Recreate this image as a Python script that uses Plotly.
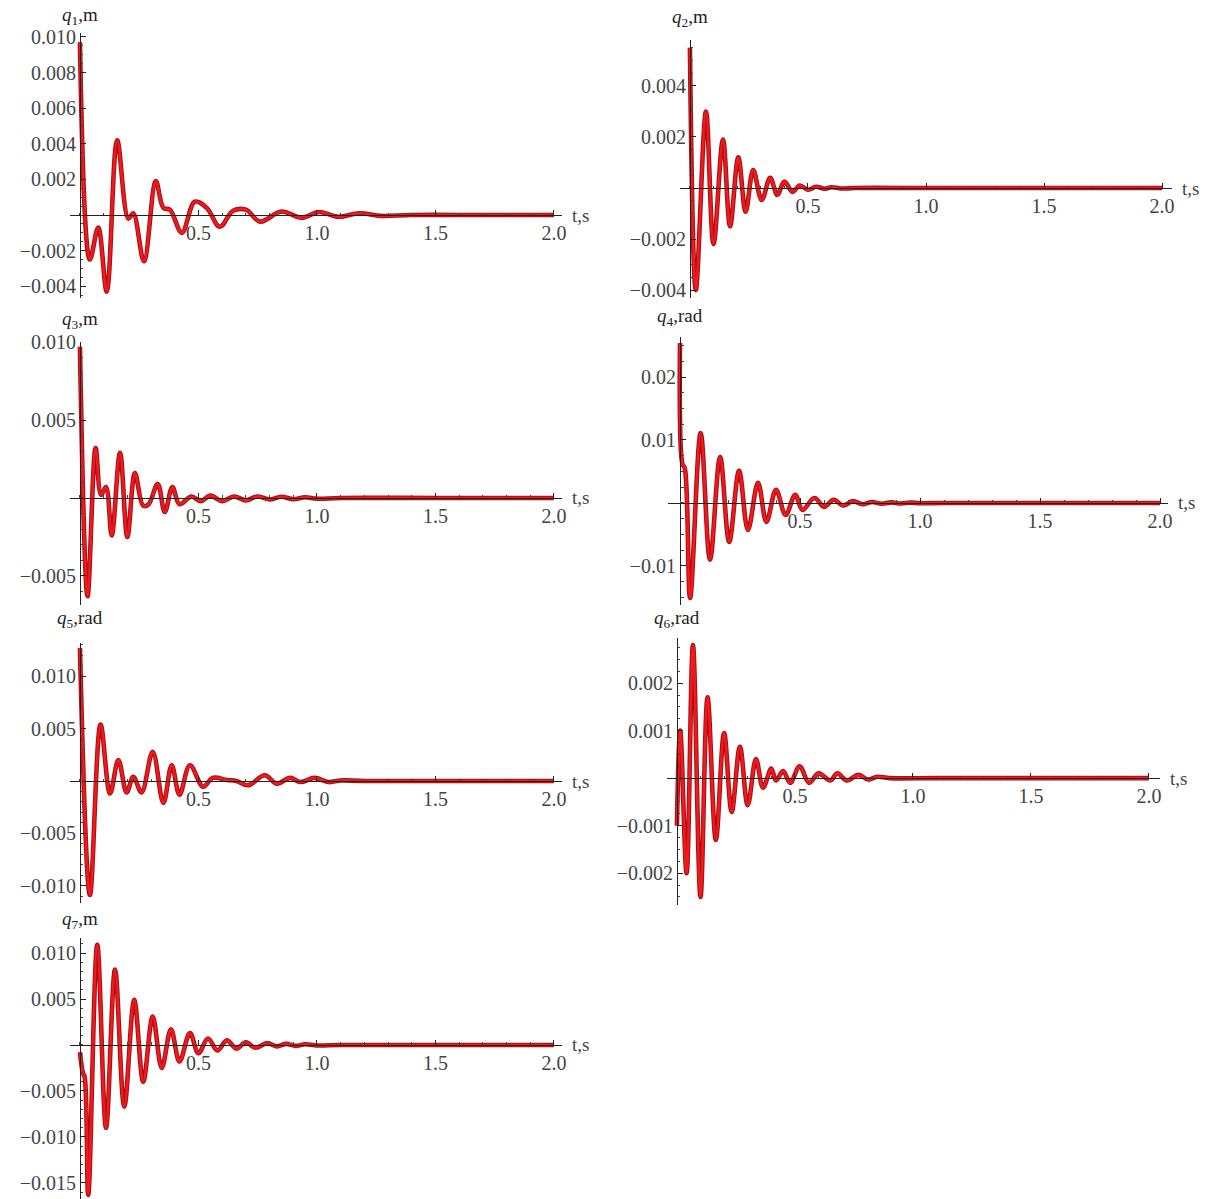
import plotly.graph_objects as go

W, H = 1215, 1199

# ---------------- data ----------------
t1 = [0, 0.042, 0.077, 0.113, 0.157, 0.204, 0.225, 0.27, 0.32, 0.352, 0.38, 0.43, 0.485, 0.535, 0.59,
      0.646, 0.70, 0.76, 0.85, 0.935, 1.01, 1.09, 1.18, 1.27, 1.4, 1.7, 2.0]
q1 = [0.0097, -0.0025, -0.0007, -0.0043, 0.0042, -0.0002, 0.0001, -0.0026, 0.0019, 0.0004, 0.0003, -0.0010,
      0.00075, 0.0004, -0.00066, 0.00024, 0.0003, -0.00037, 0.0002, -0.00015, 0.00017, -0.0001, 0.0001,
      -0.00005, 0, 0, 0]

t2 = [0, 0.025, 0.068, 0.10, 0.14, 0.17, 0.205, 0.236, 0.268, 0.304, 0.34, 0.37, 0.40, 0.435, 0.465,
      0.50, 0.535, 0.57, 0.60, 0.64, 0.70, 1.0, 1.5, 2.0]
q2 = [0.0055, -0.0040, 0.0030, -0.0022, 0.0019, -0.0015, 0.0012, -0.00093, 0.0007, -0.00047, 0.0004,
      -0.00027, 0.00025, -0.00015, 0.0001, -0.00007, 0.00005, -0.00003, 0.00003, -0.00002, 0, 0, 0, 0]

t3 = [0, 0.032, 0.066, 0.089, 0.11, 0.134, 0.169, 0.20, 0.232, 0.267, 0.29, 0.328, 0.358, 0.39, 0.42,
      0.47, 0.51, 0.55, 0.60, 0.65, 0.70, 0.75, 0.80, 0.85, 0.90, 0.95, 1.0, 1.1, 1.5, 2.0]
q3 = [0.0097, -0.0063, 0.0032, 0.0002, 0.0007, -0.0024, 0.0029, -0.0025, 0.0016, -0.0005, -0.0004,
      0.0009, -0.0009, 0.0007, -0.0004, 0.0001, -0.0002, 0.00015, -0.0002, 0.0001, -0.00015, 0.0001,
      -0.0001, 0.00008, -0.00008, 0.00005, -0.00005, 0, 0, 0]

t4 = [0, 0.01, 0.02, 0.042, 0.086, 0.125, 0.167, 0.205, 0.246, 0.283, 0.325, 0.36, 0.40, 0.44, 0.48,
      0.51, 0.56, 0.60, 0.64, 0.68, 0.72, 0.76, 0.80, 0.84, 0.88, 0.92, 0.96, 1.0, 1.1, 1.5, 2.0]
q4 = [0.0254, 0.0062, 0.0055, -0.0151, 0.0111, -0.0090, 0.0073, -0.0062, 0.0051, -0.0043, 0.0032,
      -0.0030, 0.0021, -0.0019, 0.0013, -0.0011, 0.0008, -0.0006, 0.0005, -0.0004, 0.0003, -0.0002,
      0.00015, -0.00012, 0.0001, -0.00008, 0.00006, -0.00004, 0, 0, 0]

t5 = [0, 0.042, 0.087, 0.127, 0.162, 0.197, 0.225, 0.26, 0.307, 0.352, 0.387, 0.42, 0.464, 0.52, 0.56,
      0.62, 0.66, 0.71, 0.78, 0.83, 0.887, 0.93, 0.99, 1.05, 1.1, 1.2, 1.6, 2.0]
q5 = [0.0127, -0.0109, 0.0054, -0.0012, 0.0020, -0.0011, 0.0004, -0.0011, 0.0028, -0.0021, 0.0015,
      -0.0013, 0.0015, -0.00055, 0.0003, 0.0001, 0.0, -0.0004, 0.00055, -0.00025, 0.0003, -0.0001,
      0.0003, -0.0001, 0.00005, 0, 0, 0]

t6 = [0, 0.014, 0.041, 0.068, 0.10, 0.13, 0.165, 0.20, 0.232, 0.267, 0.30, 0.335, 0.365, 0.40, 0.42,
      0.45, 0.48, 0.52, 0.56, 0.60, 0.65, 0.68, 0.72, 0.77, 0.81, 0.85, 0.90, 1.1, 1.5, 2.0]
q6 = [-0.0010, 0.0010, -0.0020, 0.0028, -0.0025, 0.0017, -0.0013, 0.00095, -0.00071, 0.00066, -0.00057,
      0.0004, -0.0002, 0.0002, -0.00005, 0.00015, -0.0001, 0.00025, -0.0001, 0.0001, -0.00005, 0.0001,
      -0.00005, 0.00007, -0.00003, 0.00003, 0, 0, 0, 0]

t7 = [0, 0.012, 0.02, 0.035, 0.073, 0.11, 0.148, 0.187, 0.229, 0.267, 0.307, 0.345, 0.384, 0.42, 0.464,
      0.50, 0.54, 0.58, 0.62, 0.66, 0.70, 0.74, 0.79, 0.83, 0.87, 0.91, 0.95, 1.0, 1.1, 1.5, 2.0]
q7 = [-0.0008, -0.0030, -0.0035, -0.0163, 0.0109, -0.0090, 0.0082, -0.0067, 0.0049, -0.0040, 0.0031,
      -0.0025, 0.0017, -0.0018, 0.0013, -0.0009, 0.0007, -0.0006, 0.0005, -0.0004, 0.0003, -0.0003,
      0.0002, -0.00015, 0.00012, -0.0001, 0.00008, -0.00005, 0, 0, 0]

x_ticks = [0.5, 1.0, 1.5, 2.0]
x_tick_text = ["0.5", "1.0", "1.5", "2.0"]

y_labels = ["<i>q</i><sub>1</sub>,m", "<i>q</i><sub>2</sub>,m", "<i>q</i><sub>3</sub>,m",
            "<i>q</i><sub>4</sub>,rad", "<i>q</i><sub>5</sub>,rad", "<i>q</i><sub>6</sub>,rad",
            "<i>q</i><sub>7</sub>,m"]

y_ticks = [
    [0.010, 0.008, 0.006, 0.004, 0.002, -0.002, -0.004],
    [0.004, 0.002, -0.002, -0.004],
    [0.010, 0.005, -0.005],
    [0.02, 0.01, -0.01],
    [0.010, 0.005, -0.005, -0.010],
    [0.002, 0.001, -0.001, -0.002],
    [0.010, 0.005, -0.005, -0.010, -0.015],
]
y_tick_text = [
    ["0.010", "0.008", "0.006", "0.004", "0.002", "\u22120.002", "\u22120.004"],
    ["0.004", "0.002", "\u22120.002", "\u22120.004"],
    ["0.010", "0.005", "\u22120.005"],
    ["0.02", "0.01", "\u22120.01"],
    ["0.010", "0.005", "\u22120.005", "\u22120.010"],
    ["0.002", "0.001", "\u22120.001", "\u22120.002"],
    ["0.010", "0.005", "\u22120.005", "\u22120.010", "\u22120.015"],
]

series_t = [t1, t2, t3, t4, t5, t6, t7]
series_q = [q1, q2, q3, q4, q5, q6, q7]

# ---------------- layout geometry (pixels) ----------------
geo = [
    dict(px=(70, 562), py=(33, 298), xr=(-0.042, 2.034), yr=(-0.00466, 0.01022), ymin=0.0005, laby=16),
    dict(px=(680, 1172), py=(40, 298), xr=(-0.042, 2.042), yr=(-0.00431, 0.0058), ymin=0.0005, laby=18),
    dict(px=(70, 562), py=(342, 605), xr=(-0.042, 2.034), yr=(-0.00686, 0.0100), ymin=0.001, laby=320),
    dict(px=(668, 1168), py=(337, 605), xr=(-0.050, 2.033), yr=(-0.0162, 0.02635), ymin=0.0025, laby=317),
    dict(px=(70, 562), py=(643, 903), xr=(-0.042, 2.034), yr=(-0.01166, 0.01319), ymin=0.001, laby=619),
    dict(px=(667, 1160), py=(638, 905), xr=(-0.042, 2.047), yr=(-0.00267, 0.00295), ymin=0.00025, laby=619),
    dict(px=(70, 562), py=(938, 1199), xr=(-0.042, 2.034), yr=(-0.01674, 0.01163), ymin=0.001, laby=920),
]

FONT = "Liberation Serif, Times New Roman, serif"
TICKFONT = dict(family=FONT, size=20, color="#444")
fig = go.Figure()
annotations = []

for i in range(7):
    n = i + 1
    g = geo[i]
    sfx = "" if n == 1 else str(n)
    xa, ya = "x" + sfx, "y" + sfx
    # dark outline + bright red core
    fig.add_trace(go.Scatter(x=series_t[i], y=series_q[i], mode="lines", xaxis=xa, yaxis=ya,
                             line=dict(color="#a80e12", width=4.6, shape="spline", smoothing=1.0),
                             showlegend=False, hoverinfo="skip"))
    fig.add_trace(go.Scatter(x=series_t[i], y=series_q[i], mode="lines", xaxis=xa, yaxis=ya,
                             line=dict(color="#f01a1e", width=2.6, shape="spline", smoothing=1.0),
                             showlegend=False))

    xd = [g["px"][0] / W, g["px"][1] / W]
    yd = [1 - g["py"][1] / H, 1 - g["py"][0] / H]
    xr, yr = g["xr"], g["yr"]
    xpos = yd[0] + (0 - yr[0]) / (yr[1] - yr[0]) * (yd[1] - yd[0])
    ypos = xd[0] + (0 - xr[0]) / (xr[1] - xr[0]) * (xd[1] - xd[0])

    fig.layout["xaxis" + sfx] = dict(
        domain=xd, range=list(xr), anchor="free", position=xpos, side="bottom",
        automargin=False,
        showline=True, linecolor="#222", linewidth=1, showgrid=False, zeroline=False,
        tickmode="array", tickvals=x_ticks, ticktext=x_tick_text,
        ticks="inside", ticklen=5, tickcolor="#222",
        minor=dict(dtick=0.1, tick0=0, ticks="inside", ticklen=2.5, tickcolor="#444"),
        tickfont=TICKFONT,
    )
    fig.layout["yaxis" + sfx] = dict(
        domain=yd, range=list(yr), anchor="free", position=ypos, side="left",
        automargin=False,
        showline=True, linecolor="#222", linewidth=1, showgrid=False, zeroline=False,
        tickmode="array", tickvals=y_ticks[i], ticktext=y_tick_text[i],
        ticks="inside", ticklen=5, tickcolor="#222",
        minor=dict(dtick=g["ymin"], tick0=0, ticks="inside", ticklen=2.5, tickcolor="#444"),
        tickfont=TICKFONT,
    )

    annotations.append(dict(
        text=y_labels[i], xref=xa, x=0, yref="paper", y=1 - g["laby"] / H,
        xanchor="center", yanchor="middle", showarrow=False,
        font=dict(family=FONT, size=19, color="#222")))
    annotations.append(dict(
        text="t,s", xref=xa + " domain", x=1, xanchor="left", xshift=8,
        yref=ya, y=0, yanchor="middle", showarrow=False,
        font=dict(family=FONT, size=19, color="#444")))

fig.update_layout(
    width=W, height=H, margin=dict(l=0, r=0, t=0, b=0, pad=0, autoexpand=False),
    paper_bgcolor="white", plot_bgcolor="white",
    showlegend=False, annotations=annotations,
    font=dict(family=FONT, size=20, color="#444"),
)

fig.write_html("out.html", config={"displayModeBar": False},
               post_script="document.body.style.margin='0';")
